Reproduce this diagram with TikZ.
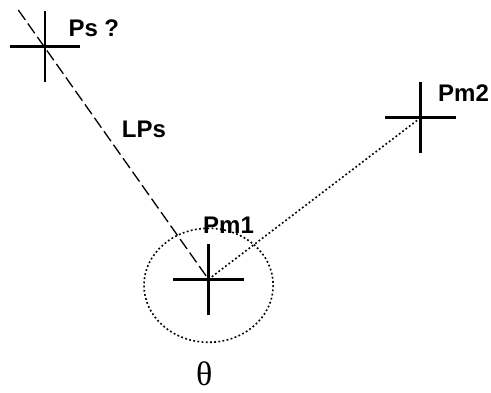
\documentclass[tikz,border=0pt]{standalone}
\usepackage{fontspec}
\setmainfont{Liberation Sans}
\newfontfamily\thetafont{Liberation Serif}
\usetikzlibrary{shapes.misc, positioning}

\begin{document}
\begin{tikzpicture}[
    x=1pt, y=-1pt,
    font=\bfseries\fontsize{24}{28}\selectfont,
    measmark/.style={draw, cross out, rotate=45, minimum size=47.4pt, inner sep=0pt, line width=2.8pt},
    ptlabel/.style={anchor=base west, inner sep=0pt},
    guessline/.style={line width=1.3pt, dash pattern=on 12pt off 4.5pt},
    dotline/.style={line width=1.6pt, dash pattern=on 1.8pt off 2.4pt}
]
\useasboundingbox (0,0) rectangle (491,392);

\node[measmark] (ps) at (45,46.7) {};
\node[measmark] (pm1) at (208.5,279.3) {};
\node[measmark] (pm2) at (420.5,117.8) {};
\coordinate (lpsend) at (18.3,10);

\node[ptlabel] (psl) at (68.3,36) {Ps ?};
\node[ptlabel] (lpsl) at (121.7,137.3) {LPs};
\node[ptlabel] (pm1l) at (203,233.3) {Pm1};
\node[ptlabel] (pm2l) at (438,101.7) {Pm2};
\node[inner sep=0pt, font=\thetafont\fontsize{34}{40}\selectfont] (theta) at (204.2,374) {θ};

\draw[guessline] (lpsend) -- (pm1.center);
\draw[dotline] (pm1.center) -- (pm2.center);
\draw[dotline] (208.6,285.3) ellipse (64.6 and 57);

\end{tikzpicture}
\end{document}
